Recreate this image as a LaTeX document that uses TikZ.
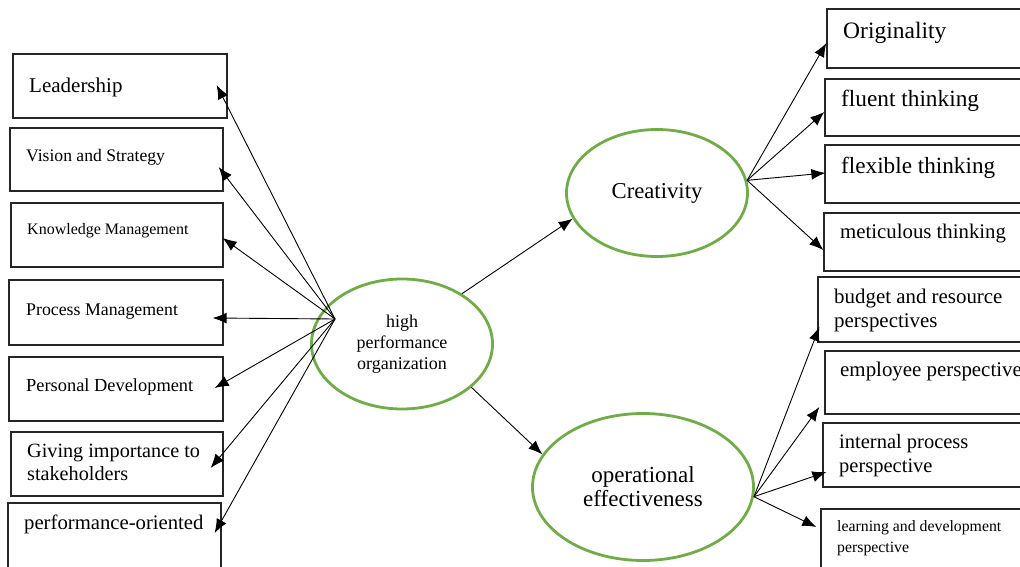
\documentclass[tikz,border=0pt]{standalone}
\usepackage{fontspec}
\setmainfont{Liberation Serif}
\usetikzlibrary{shapes.geometric,arrows.meta}

\definecolor{ovalgreen}{RGB}{112,173,71}
\newcommand{\fsz}[2]{\fontsize{#1}{#2}\selectfont}

\tikzset{
  box/.style={draw=black!85, line width=1.3pt, inner sep=0pt},
  oval/.style={ellipse, draw=ovalgreen, line width=2.8pt, inner sep=0pt, align=center},
  lbl/.style={anchor=base west, inner sep=0pt, align=left},
  arr/.style={-{Latex[length=14pt,width=11pt]}, line width=0.9pt}
}

\begin{document}
\begin{tikzpicture}[x=1pt, y=-1pt]
\useasboundingbox (0,0) rectangle (1020,567);
\clip (0,0) rectangle (1020,567);

% Draw the boxes on the left and insert the labels
\node[box, minimum width=214pt, minimum height=64pt] (lead) at (120,86) {};
\node[lbl, font=\fsz{21}{23}] at (29,93) {Leadership};
\node[box, minimum width=213pt, minimum height=63pt] (vis) at (116.5,159.5) {};
\node[lbl, font=\fsz{17.6}{20}] at (26,161) {Vision and Strategy};
\node[box, minimum width=212pt, minimum height=64pt] (know) at (117,235) {};
\node[lbl, font=\fsz{16}{18}] at (27,234) {Knowledge Management};
\node[box, minimum width=214pt, minimum height=65pt] (proc) at (116,312.5) {};
\node[lbl, font=\fsz{17.8}{20}] at (26,315) {Process Management};
\node[box, minimum width=214pt, minimum height=64pt] (pers) at (116,389) {};
\node[lbl, font=\fsz{18.4}{20}] at (26,391) {Personal Development};
\node[box, minimum width=212pt, minimum height=64pt] (giv) at (117,464) {};
\node[lbl, font=\fsz{20.2}{23}] at (27,480) {Giving importance to\\stakeholders};
\node[box, minimum width=213pt, minimum height=70pt] (perf) at (114.5,538) {};
\node[lbl, font=\fsz{20.7}{23}] at (24,529) {performance-oriented};

% Draw the three ovals
\node[oval, minimum width=181pt, minimum height=130pt, font=\fsz{18}{21}] (hpo) at (402,344) {high\\performance\\organization};
\node[oval, minimum width=181pt, minimum height=127pt, font=\fsz{22.7}{25}] (cre) at (657,193) {Creativity};
\node[oval, minimum width=221pt, minimum height=147pt, font=\fsz{23}{24}] (ope) at (643,487) {operational\\effectiveness};
\coordinate (hpohub) at (335,319);

% Draw the boxes on the right and insert the labels
\node[box, minimum width=213pt, minimum height=59pt] (orig) at (933.5,38.5) {};
\node[lbl, font=\fsz{23.5}{25}] at (843,39) {Originality};
\node[box, minimum width=215pt, minimum height=57pt] (flu) at (932.5,107.5) {};
\node[lbl, font=\fsz{23.3}{25}] at (841,107) {fluent thinking};
\node[box, minimum width=215pt, minimum height=58pt] (flex) at (932.5,174) {};
\node[lbl, font=\fsz{23.2}{25}] at (841,173) {flexible thinking};
\node[box, minimum width=216pt, minimum height=58pt] (met) at (932,242) {};
\node[lbl, font=\fsz{20.8}{23}] at (840,238) {meticulous thinking};
\node[box, minimum width=222pt, minimum height=65pt] (bud) at (929,309.5) {};
\node[lbl, font=\fsz{20.9}{24}] at (834,327) {budget and resource\\perspectives};
\node[box, minimum width=215pt, minimum height=63pt] (emp) at (932.5,382.5) {};
\node[lbl, font=\fsz{20.9}{24}] at (840,376) {employee perspective};
\node[box, minimum width=217pt, minimum height=64pt] (int) at (931.5,455) {};
\node[lbl, font=\fsz{20.5}{24}] at (839,472) {internal process\\perspective};
\node[box, minimum width=219pt, minimum height=71pt] (lrn) at (930.5,544.5) {};
\node[lbl, font=\fsz{15.8}{21}] at (837,552) {learning and development\\perspective};

% Arrows from the centre to the left boxes
\draw[arr] (hpohub) -- ([shift={(-11,-1)}]lead.east);
\draw[arr] (hpohub) -- ([shift={(-5,7.5)}]vis.east);
\draw[arr] (hpohub) -- ([shift={(-1,3)}]know.east);
\draw[arr] (hpohub) -- ([shift={(-11,5.5)}]proc.east);
\draw[arr] (hpohub) -- ([shift={(-9,-1)}]pers.east);
\draw[arr] (hpohub) -- ([shift={(-13,4)}]giv.east);
\draw[arr] (hpohub) -- ([shift={(-7,-5)}]perf.east);

% Arrows between the ovals
\draw[arr] (hpo.40) -- (cre.197);
\draw[arr] (hpo.328) -- (ope.162);

% Arrows from the ovals to the right boxes
\draw[arr] (cre.8) -- ([shift={(0,4.5)}]orig.west);
\draw[arr] (cre.8) -- ([shift={(0,4.5)}]flu.west);
\draw[arr] (cre.8) -- ([shift={(1,-1)}]flex.west);
\draw[arr] (cre.8) -- ([shift={(0,8)}]met.west);
\draw[arr] (ope.-5) -- ([shift={(2,17.5)}]bud.west);
\draw[arr] (ope.-5) -- ([shift={(-5,24.5)}]emp.west);
\draw[arr] (ope.-5) -- ([shift={(4,17)}]int.west);
\draw[arr] (ope.-5) -- ([shift={(-4,-17.5)}]lrn.west);
\end{tikzpicture}
\end{document}
